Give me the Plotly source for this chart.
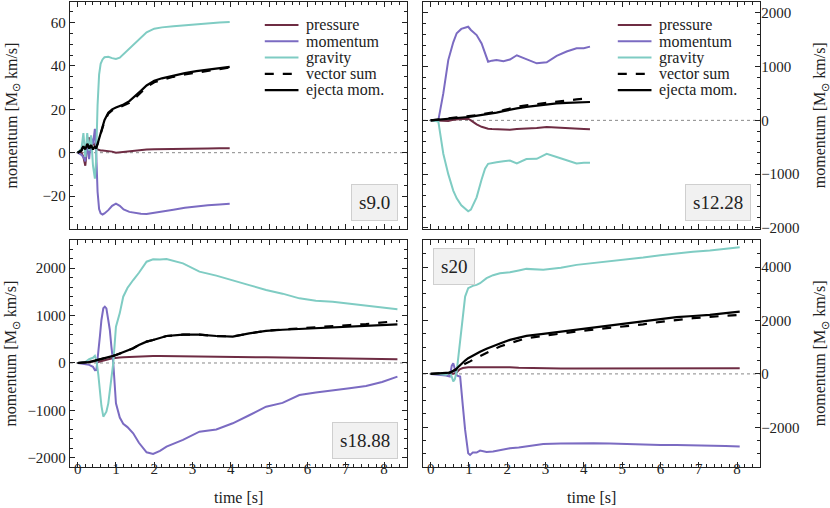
"""Momentum budget of the ejecta for four progenitors (2x2 panels)."""

import plotly.graph_objects as go

# --- s9.0 -------------------------------------------------------------------
S9_T = [0, 0.1, 0.15, 0.2, 0.25, 0.3, 0.35, 0.4, 0.45, 0.48, 0.52, 0.56, 0.6,
        0.65, 0.7, 0.8, 0.9, 1.0, 1.1, 1.2, 1.35, 1.5, 1.65, 1.8, 2.0, 2.2,
        2.5, 2.8, 3.1, 3.4, 3.7, 3.97]
S9_PRESSURE = [0, 0, -2, -6, 3, 7, 2, 5, 3, 2, 1.5, 1.2, 1, 1, 0.9, 0.8, 0.5,
               0, 0.2, 0.5, 0.9, 1.2, 1.4, 1.5, 1.6, 1.6, 1.7, 1.8, 1.8, 1.9,
               2.0, 2.0]
S9_MOMENTUM = [0, -1, -2, -4, 4, -3, 7, 4, 11, 2, -18, -26, -28, -28.5, -28,
               -26.5, -24.5, -23.5, -24.5, -26.2, -27.3, -27.8, -28.2, -28.3,
               -27.8, -27.2, -26.3, -25.4, -24.7, -24.2, -23.9, -23.6]
S9_GRAVITY = [0, 2, 9, -2, 9, 1, 8, -6, -12, -4, 22, 36, 41, 43, 44, 44.2,
              43.6, 43.2, 43.8, 45.5, 48, 50.5, 53, 55.5, 57.2, 57.8, 58.3,
              58.8, 59.3, 59.7, 60.0, 60.3]
S9_VECSUM = [0, 1, 3, 1.5, 4, 2, 3.5, 1.5, 3, 2, 4, 6, 8.5, 11.5, 14.5, 18,
             19.5, 20.3, 21, 21.6, 23, 25.2, 27.8, 30.3, 32.5, 33.6, 35, 36.1,
             37, 37.8, 38.6, 39.3]
S9_EJECTA = [0, 1, 3, 1.5, 4, 2, 3.5, 1.5, 3, 2, 4, 6.5, 9, 12, 15, 18.5, 20,
             20.8, 21.5, 22.2, 23.8, 26, 28.5, 31, 33.2, 34.3, 35.6, 36.7,
             37.6, 38.4, 39.0, 39.6]

# --- s12.28 -----------------------------------------------------------------
S12_T = [0, 0.2, 0.33, 0.46, 0.59, 0.68, 0.8, 0.9, 0.98, 1.05, 1.2, 1.33,
         1.42, 1.5, 1.6, 1.72, 1.9, 2.07, 2.25, 2.5, 2.77, 3.03, 3.29, 3.55,
         3.81, 4.0, 4.16]
S12_PRESSURE = [0, -10, -15, -10, 10, 20, 25, 25, 30, 0, -75, -120, -145,
                -155, -160, -165, -170, -174, -160, -155, -140, -124, -130,
                -140, -150, -160, -165]
S12_MOMENTUM = [0, 0, 500, 1120, 1450, 1620, 1700, 1720, 1740, 1680, 1586,
                1430, 1250, 1090, 1110, 1120, 1100, 1130, 1210, 1140, 1060,
                1080, 1200, 1280, 1340, 1340, 1370]
S12_GRAVITY = [0, -20, -620, -1000, -1306, -1450, -1580, -1648, -1690, -1660,
               -1431, -1100, -900, -808, -800, -780, -760, -746, -800, -720,
               -715, -622, -680, -746, -800, -790, -790]
S12_VECSUM = [0, 12, 25, 35, 45, 55, 65, 70, 75, 82, 95, 110, 120, 130, 145,
              162, 190, 225, 250, 280, 305, 325, 350, 370, 390, 400, 405]
S12_EJECTA = [0, 10, 20, 25, 35, 40, 50, 55, 62, 70, 85, 100, 110, 118, 130,
              145, 170, 199, 222, 250, 275, 298, 315, 325, 333, 338, 341]

# --- s18.88 -----------------------------------------------------------------
S18_T = [0, 0.2, 0.3, 0.4, 0.45, 0.49, 0.54, 0.58, 0.62, 0.67, 0.71, 0.75,
         0.8, 0.84, 0.88, 0.93, 1.0, 1.1, 1.19, 1.3, 1.45, 1.6, 1.8, 1.97,
         2.15, 2.32, 2.75, 3.18, 3.62, 4.05, 4.48, 4.92, 5.35, 5.79, 6.22,
         6.66, 7.1, 7.53, 7.95, 8.35]
S18_PRESSURE = [0, 10, 20, 30, 40, 30, 20, 30, 40, 50, 60, 70, 80, 90, 95,
                100, 110, 115, 120, 125, 130, 135, 140, 147, 148, 147, 140,
                135, 130, 130, 125, 120, 115, 110, 105, 100, 95, 90, 85, 77]
S18_MOMENTUM = [0, -20, -40, -80, -150, -147, 200, 554, 900, 1151, 1186,
                1150, 900, 695, 350, 0, -849, -1150, -1280, -1350, -1480,
                -1680, -1880, -1916, -1850, -1762, -1620, -1446, -1400, -1270,
                -1100, -920, -840, -674, -620, -568, -530, -484, -400, -288]
S18_GRAVITY = [0, 20, 80, 110, 150, 60, -250, -568, -900, -1130, -1080,
               -1025, -850, -568, -300, 0, 765, 1050, 1396, 1580, 1747, 1900,
               2133, 2182, 2180, 2190, 2098, 1923, 1840, 1747, 1640, 1537,
               1460, 1361, 1310, 1291, 1250, 1221, 1180, 1130]
S18_VECSUM = [0, 10, 20, 40, 50, 55, 60, 70, 80, 90, 95, 100, 110, 125, 140,
              150, 168, 200, 230, 260, 309, 380, 450, 484, 530, 568, 596, 596,
              568, 560, 620, 680, 705, 725, 750, 779, 800, 820, 850, 884]
S18_EJECTA = [0, 10, 20, 40, 50, 55, 60, 70, 80, 90, 95, 100, 110, 125, 140,
              150, 168, 200, 230, 260, 309, 380, 450, 484, 530, 568, 596, 596,
              568, 554, 625, 675, 700, 716, 735, 751, 765, 779, 795, 814]

# --- s20 --------------------------------------------------------------------
S20_T = [0, 0.2, 0.4, 0.5, 0.55, 0.59, 0.63, 0.68, 0.72, 0.77, 0.84, 0.9,
         0.98, 1.03, 1.1, 1.2, 1.29, 1.46, 1.63, 1.81, 2.07, 2.3, 2.5, 2.94,
         3.4, 3.81, 4.25, 4.68, 5.1, 5.55, 6.0, 6.42, 6.85, 7.29, 7.7, 8.07]
S20_PRESSURE = [0, 0, 0, 0, 0, 10, 30, 60, 120, 180, 220, 240, 250, 250, 250,
                255, 258, 260, 262, 260, 245, 230, 220, 205, 200, 200, 200,
                200, 200, 200, 200, 200, 205, 205, 210, 212]
S20_MOMENTUM = [0, -20, -60, -100, 300, 400, 150, -50, -80, -100, -1200,
                -2100, -2975, -3037, -2950, -2950, -2875, -2930, -2912, -2850,
                -2787, -2760, -2725, -2625, -2610, -2600, -2600, -2610, -2630,
                -2662, -2665, -2665, -2670, -2680, -2700, -2725]
S20_GRAVITY = [0, 0, -30, 50, -100, -287, -200, 100, 600, 1275, 2200, 2900,
               3213, 3250, 3300, 3337, 3400, 3588, 3700, 3775, 3812, 3880,
               3937, 3900, 3980, 4087, 4150, 4211, 4280, 4361, 4450, 4526,
               4580, 4626, 4690, 4751]
S20_VECSUM = [0, 10, 30, 50, 80, 100, 130, 170, 210, 280, 340, 380, 420, 470,
              530, 600, 670, 800, 920, 1030, 1150, 1260, 1340, 1425, 1520,
              1590, 1660, 1720, 1790, 1860, 1950, 2030, 2090, 2140, 2180, 2212]
S20_EJECTA = [0, 10, 30, 50, 80, 110, 150, 200, 260, 337, 420, 500, 587, 630,
              690, 775, 830, 940, 1025, 1140, 1275, 1360, 1425, 1500, 1580,
              1650, 1720, 1800, 1880, 1961, 2040, 2125, 2170, 2212, 2280, 2337]

MODEL_LABELS = ["s9.0", "s12.28", "s18.88", "s20"]
SERIES_NAMES = ["pressure", "momentum", "gravity", "vector sum", "ejecta mom."]

COLORS = {
    "pressure": "#6e2c43",
    "momentum": "#7b6bc2",
    "gravity": "#7fccc3",
}
INK = "#222222"
FONT = "Liberation Serif"
YTITLE = "momentum [M<sub>⊙</sub> km/s]"

panels = [
    (S9_T, [S9_PRESSURE, S9_MOMENTUM, S9_GRAVITY, S9_VECSUM, S9_EJECTA]),
    (S12_T, [S12_PRESSURE, S12_MOMENTUM, S12_GRAVITY, S12_VECSUM, S12_EJECTA]),
    (S18_T, [S18_PRESSURE, S18_MOMENTUM, S18_GRAVITY, S18_VECSUM, S18_EJECTA]),
    (S20_T, [S20_PRESSURE, S20_MOMENTUM, S20_GRAVITY, S20_VECSUM, S20_EJECTA]),
]


def line_style(name):
    if name in COLORS:
        return dict(color=COLORS[name], width=2)
    if name == "vector sum":
        return dict(color="black", width=2.2, dash="dash")
    return dict(color="black", width=2.2)


fig = go.Figure()
shapes = []
annotations = []

for i, (t, series) in enumerate(panels):
    ax = "" if i == 0 else str(i + 1)
    for name, values in zip(SERIES_NAMES, series):
        fig.add_trace(go.Scatter(
            x=t, y=values, mode="lines", name=name, line=line_style(name),
            xaxis="x" + ax, yaxis="y" + ax, showlegend=False,
        ))
    # dotted zero line
    shapes.append(dict(type="line", xref="x" + ax + " domain", yref="y" + ax,
                       x0=0, x1=1, y0=0, y1=0, layer="below",
                       line=dict(color="#888888", width=1, dash="dot")))

# hand-made legends in the two upper panels (tighter rows than plotly's)
for ax in ["", "2"]:
    for k, name in enumerate(SERIES_NAMES):
        yk = 0.899 - 0.0718 * k
        shapes.append(dict(type="line", xref="x" + ax + " domain",
                           yref="y" + ax + " domain", x0=0.578, x1=0.678,
                           y0=yk, y1=yk, line=line_style(name)))
        annotations.append(dict(xref="x" + ax + " domain",
                                yref="y" + ax + " domain", x=0.695, y=yk,
                                xanchor="left", yanchor="middle", text=name,
                                showarrow=False,
                                font=dict(family=FONT, size=16, color=INK)))

# panel geometry (paper fractions) and axis ranges
x_domains = [[0, 0.4884], [0.5116, 1], [0, 0.4884], [0.5116, 1]]
y_domains = [[0.5118, 1], [0.5118, 1], [0, 0.4882], [0, 0.4882]]
y_ranges = [[-35.2, 69.5], [-2020, 2200], [-2190, 2590], [-3490, 5020]]
y_dticks = [20, 1000, 1000, 2000]
y_minor = [5, 200, 200, 500]

axis_common = dict(
    showline=True, linecolor=INK, linewidth=1.3, mirror="allticks",
    ticks="inside", ticklen=5, tickwidth=1, tickcolor=INK,
    showgrid=False, zeroline=False,
    tickfont=dict(family=FONT, size=15, color=INK),
)

layout = {}
for i in range(4):
    ax = "" if i == 0 else str(i + 1)
    layout["xaxis" + ax] = dict(
        axis_common, domain=x_domains[i], anchor="y" + ax,
        range=[-0.2, 8.6], dtick=1, tick0=0,
        minor=dict(dtick=0.2, ticks="inside", ticklen=3, tickcolor=INK),
        showticklabels=i >= 2, ticklabelstandoff=-12,
    )
    layout["yaxis" + ax] = dict(
        axis_common, domain=y_domains[i], anchor="x" + ax,
        range=y_ranges[i], dtick=y_dticks[i], tick0=0,
        side="left" if i % 2 == 0 else "right",
        ticklabelstandoff=0 if i % 2 == 0 else -3,
        minor=dict(dtick=y_minor[i], ticks="inside", ticklen=3,
                   tickcolor=INK),
    )

# axis titles
title_font = dict(family=FONT, size=16, color=INK)
for xp in [-0.084, 1.088]:
    for yp in [0.756, 0.244]:
        annotations.append(dict(xref="paper", yref="paper", x=xp, y=yp,
                                xanchor="center", yanchor="middle",
                                text=YTITLE, textangle=-90, showarrow=False,
                                font=title_font))
for xp in [0.244, 0.756]:
    annotations.append(dict(xref="paper", yref="paper", x=xp, y=-0.066,
                            xanchor="center", yanchor="middle",
                            text="time [s]", showarrow=False,
                            font=title_font))

# boxed model labels
label_pos = [
    dict(xref="x domain", yref="y domain", x=0.973, y=0.035,
         xanchor="right", yanchor="bottom"),
    dict(xref="x2 domain", yref="y2 domain", x=0.973, y=0.035,
         xanchor="right", yanchor="bottom"),
    dict(xref="x3 domain", yref="y3 domain", x=0.973, y=0.035,
         xanchor="right", yanchor="bottom"),
    dict(xref="x4 domain", yref="y4 domain", x=0.03, y=0.965,
         xanchor="left", yanchor="top"),
]
for label, pos in zip(MODEL_LABELS, label_pos):
    annotations.append(dict(pos, text=label, showarrow=False,
                            font=dict(family=FONT, size=19, color=INK),
                            bgcolor="#f1f1f1", bordercolor="#cfcfcf",
                            borderwidth=1, borderpad=7))

fig.update_layout(
    width=830, height=508,
    margin=dict(l=70, r=70, t=2, b=41),
    plot_bgcolor="white", paper_bgcolor="white",
    font=dict(family=FONT, size=15, color=INK),
    showlegend=False,
    shapes=shapes,
    annotations=annotations,
    **layout,
)

# drop the browser's default 8px body margin so the figure fills the window
fig.write_html("out.html", config={"displayModeBar": False},
               post_script="document.body.style.margin = '0';")
